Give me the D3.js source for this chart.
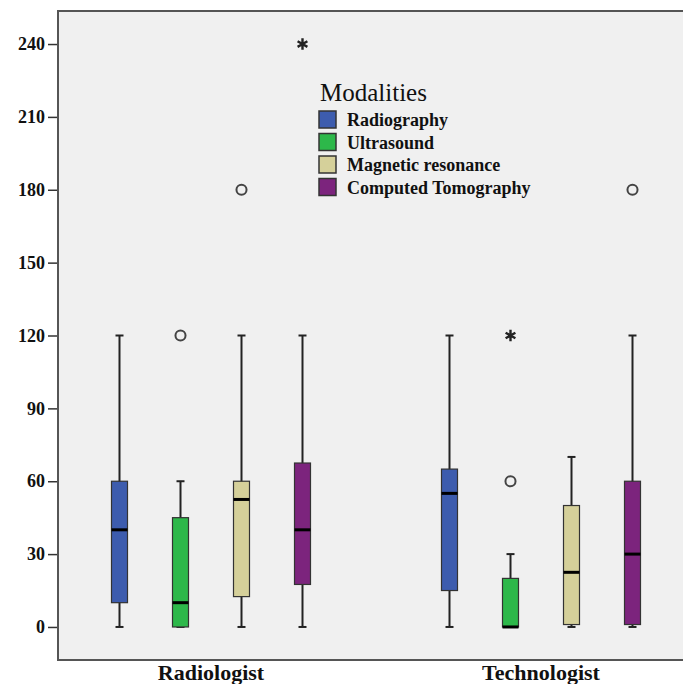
<!DOCTYPE html>
<html>
<head>
<meta charset="utf-8">
<script src="https://cdn.jsdelivr.net/npm/d3@7"></script>
<style>
  body { margin: 0; background: #fff; }
  svg { display: block; }
</style>
</head>
<body>
<svg id="chart" width="683" height="684"></svg>
<script>
const groups = ["Radiologist", "Technologist"];
const modalities = ["Radiography", "Ultrasound", "Magnetic resonance", "Computed Tomography"];
const colors = ["#3d5cae", "#2db84a", "#d5d09a", "#7c247d"];
const yTicks = [0, 30, 60, 90, 120, 150, 180, 210, 240];

// per group, per modality
const whiskerLow = [[0, 0, 0, 0], [0, 0, 0, 0]];
const q1 = [[10, 0, 12.5, 17.5], [15, 0, 1, 1]];
const median = [[40, 10, 52.5, 40], [55, 0, 22.5, 30]];
const q3 = [[60, 45, 60, 67.5], [65, 20, 50, 60]];
const whiskerHigh = [[120, 60, 120, 120], [120, 30, 70, 120]];

// outliers: [group, modality, value, kind]
const outliers = [
  ["Radiologist", "Ultrasound", 120, "circle"],
  ["Radiologist", "Magnetic resonance", 180, "circle"],
  ["Radiologist", "Computed Tomography", 240, "star"],
  ["Technologist", "Ultrasound", 60, "circle"],
  ["Technologist", "Ultrasound", 120, "star"],
  ["Technologist", "Computed Tomography", 180, "circle"],
];

const LEFT = 58;
const TOP = 11;
const RIGHT = 683;
const BOTTOM = 660;
const BOX_W = 16;
const CAP_W = 8;
const SERIF = "'Liberation Serif', 'Times New Roman', serif";

const svg = d3.select("#chart");

const y = d3.scaleLinear().domain([-13.6, 253.6]).range([BOTTOM, TOP]);
const xGroup = d3.scaleBand().domain(groups).range([46, 706]);
const xInner = d3.scaleBand().domain(modalities).range([43, 287]);
const cx = (g, m) => xGroup(g) + xInner(m) + xInner.bandwidth() / 2;

// plot background
svg.append("rect")
  .attr("x", LEFT).attr("y", TOP)
  .attr("width", RIGHT - LEFT).attr("height", BOTTOM - TOP)
  .attr("fill", "#f0f0f0");

// y axis
const yAxis = svg.append("g")
  .attr("transform", `translate(${LEFT}, 0)`)
  .call(d3.axisLeft(y).tickValues(yTicks).tickSize(10).tickPadding(3));
yAxis.select(".domain").remove();
yAxis.selectAll(".tick line").attr("stroke", "#333").attr("stroke-width", 1.5);
yAxis.selectAll(".tick text")
  .attr("font-family", SERIF).attr("font-weight", "bold")
  .attr("font-size", 18).attr("fill", "#111");

// x axis labels
const xAxis = svg.append("g")
  .attr("transform", `translate(0, ${BOTTOM})`)
  .call(d3.axisBottom(xGroup).tickSize(0));
xAxis.select(".domain").remove();
xAxis.selectAll(".tick text")
  .attr("y", 20).attr("dy", 0)
  .attr("font-family", SERIF).attr("font-weight", "bold")
  .attr("font-size", 22).attr("fill", "#111");

// boxes
const boxes = [];
groups.forEach((g, gi) => {
  modalities.forEach((m, mi) => {
    boxes.push({
      g, m, color: colors[mi],
      lo: whiskerLow[gi][mi], q1: q1[gi][mi], med: median[gi][mi],
      q3: q3[gi][mi], hi: whiskerHigh[gi][mi],
    });
  });
});

const bx = svg.append("g").selectAll("g").data(boxes).join("g");

bx.append("line")
  .attr("x1", (d) => cx(d.g, d.m)).attr("x2", (d) => cx(d.g, d.m))
  .attr("y1", (d) => y(d.lo)).attr("y2", (d) => y(d.hi))
  .attr("stroke", "#222").attr("stroke-width", 2);

bx.selectAll(".cap")
  .data((d) => [d.lo, d.hi].map((v) => ({ v, x: cx(d.g, d.m) })))
  .join("line")
  .attr("class", "cap")
  .attr("x1", (d) => d.x - CAP_W / 2).attr("x2", (d) => d.x + CAP_W / 2)
  .attr("y1", (d) => y(d.v)).attr("y2", (d) => y(d.v))
  .attr("stroke", "#222").attr("stroke-width", 2);

bx.append("rect")
  .attr("x", (d) => cx(d.g, d.m) - BOX_W / 2)
  .attr("y", (d) => y(d.q3))
  .attr("width", BOX_W)
  .attr("height", (d) => y(d.q1) - y(d.q3))
  .attr("fill", (d) => d.color)
  .attr("stroke", "#333").attr("stroke-width", 1.2);

bx.append("line")
  .attr("x1", (d) => cx(d.g, d.m) - BOX_W / 2).attr("x2", (d) => cx(d.g, d.m) + BOX_W / 2)
  .attr("y1", (d) => y(d.med)).attr("y2", (d) => y(d.med))
  .attr("stroke", "#000").attr("stroke-width", 3);

// outliers
svg.append("g").selectAll("path").data(outliers).join("path")
  .attr("transform", (d) => `translate(${cx(d[0], d[1])}, ${y(d[2])})`)
  .attr("d", (d) => d[3] === "circle"
    ? d3.symbol(d3.symbolCircle, 80)()
    : d3.symbol(d3.symbolAsterisk, 90)())
  .attr("fill", "none")
  .attr("stroke", (d) => d[3] === "circle" ? "#444" : "#222")
  .attr("stroke-width", (d) => d[3] === "circle" ? 2 : 2.4);

// frame
svg.append("path")
  .attr("d", `M${RIGHT},${TOP}H${LEFT}V${BOTTOM}H${RIGHT}`)
  .attr("fill", "none").attr("stroke", "#555").attr("stroke-width", 2);

// legend
const legend = svg.append("g").attr("transform", "translate(318, 0)");
legend.append("text")
  .attr("x", 2).attr("y", 101)
  .attr("font-family", SERIF).attr("font-size", 25).attr("fill", "#111")
  .text("Modalities");

const item = legend.selectAll(".item").data(modalities).join("g")
  .attr("class", "item")
  .attr("transform", (d, i) => `translate(0, ${110 + i * 22.5})`);
item.append("rect")
  .attr("x", 1).attr("y", 1).attr("width", 17).attr("height", 17)
  .attr("fill", (d, i) => colors[i])
  .attr("stroke", "#333").attr("stroke-width", 1.5);
item.append("text")
  .attr("x", 29).attr("y", 16)
  .attr("font-family", SERIF).attr("font-weight", "bold")
  .attr("font-size", 18).attr("fill", "#111")
  .text((d) => d);
</script>
</body>
</html>
